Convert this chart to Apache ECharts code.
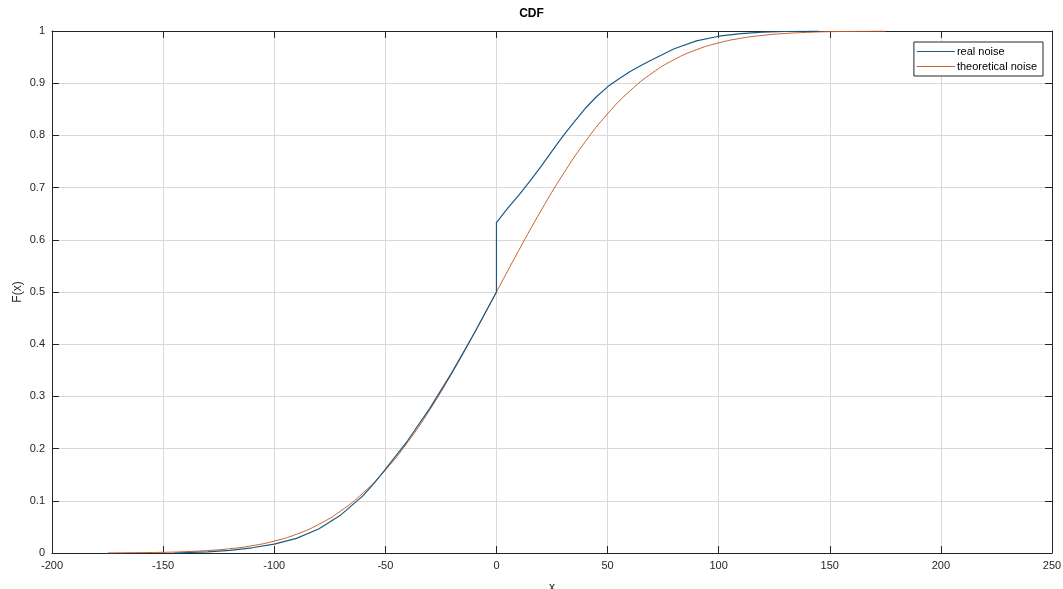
<!DOCTYPE html>
<html>
<head>
    <meta charset="utf-8">
    <title>CDF</title>
    <script src="https://cdn.jsdelivr.net/npm/echarts@6.0.0/dist/echarts.min.js"></script>
    <style>
        html, body { margin: 0; padding: 0; background: #fff; }
        #chart { width: 1063px; height: 589px; }
    </style>
</head>
<body>
<div id="chart"></div>
<script>
    var realX = [-145, -130, -120, -110, -100, -90, -80, -70, -60, -55, -50, -40, -30, -20, -10, 0,
        0, 5, 10, 15, 20, 25, 30, 35, 40, 45, 50, 55, 60, 65, 70, 80, 90, 100, 110, 120, 130, 145];
    var realY = [0, 0.002, 0.005, 0.010, 0.017, 0.028, 0.046, 0.073, 0.110, 0.134, 0.160, 0.215, 0.277, 0.346, 0.421, 0.5,
        0.633, 0.660, 0.685, 0.712, 0.740, 0.770, 0.799, 0.826, 0.852, 0.874, 0.893, 0.908, 0.922, 0.934, 0.945,
        0.966, 0.981, 0.990, 0.995, 0.998, 0.999, 1];

    // theoretical noise
    var theoX = [-175, -150, -140, -130, -120, -110, -100, -90, -80, -70, -60, -50, -40, -30, -20, -10, 0,
        10, 20, 30, 40, 50, 60, 70, 80, 90, 100, 110, 120, 130, 140, 150, 175];
    var theoY = [0.0002, 0.0013, 0.0026, 0.0047, 0.0082, 0.0139, 0.0228, 0.0359, 0.0548, 0.0808, 0.1151, 0.1587,
        0.2119, 0.2743, 0.3446, 0.4207, 0.5, 0.5793, 0.6554, 0.7257, 0.7881, 0.8413, 0.8849, 0.9192, 0.9452,
        0.9641, 0.9772, 0.9861, 0.9918, 0.9953, 0.9974, 0.9987, 0.9998];

    var seriesNames = ['real noise', 'theoretical noise'];

    function pairs(xs, ys) {
        return xs.map(function (x, i) { return [x, ys[i]]; });
    }

    var chart = echarts.init(document.getElementById('chart'));
    var axisColor = '#262626';
    var font = 'Liberation Sans, Arial, sans-serif';

    var option = {
        animation: false,
        title: {
            text: 'CDF',
            left: 'center',
            top: 3,
            textStyle: { fontSize: 12, fontWeight: 'bold', color: '#000', fontFamily: font }
        },
        grid: { left: 52, right: 11, top: 31, bottom: 36, outerBoundsMode: 'none' },
        legend: {
            orient: 'vertical',
            right: 20,
            top: 42,
            icon: 'rect',
            itemWidth: 38,
            itemHeight: 1,
            itemGap: 4,
            padding: [4, 6, 4, 3],
            borderColor: axisColor,
            borderWidth: 1,
            backgroundColor: '#fff',
            textStyle: { fontSize: 11, color: '#000', fontFamily: font, padding: [0, 0, 0, -3] },
            data: seriesNames
        },
        xAxis: [{
            type: 'value',
            min: -200, max: 250, interval: 50,
            name: 'x',
            nameLocation: 'middle',
            nameGap: 29,
            nameMoveOverlap: false,
            nameTextStyle: { fontSize: 12, color: axisColor, fontFamily: font },
            axisLine: { onZero: false, lineStyle: { color: axisColor } },
            axisTick: { inside: true, length: 7, lineStyle: { color: axisColor } },
            axisLabel: { fontSize: 11, color: axisColor, margin: 7, fontFamily: font },
            splitLine: { show: true, lineStyle: { color: '#d9d9d9' } }
        }, {
            type: 'value',
            position: 'top',
            min: -200, max: 250, interval: 50,
            axisLine: { onZero: false, lineStyle: { color: axisColor } },
            axisTick: { inside: true, length: 7, lineStyle: { color: axisColor } },
            axisLabel: { show: false },
            splitLine: { show: false }
        }],
        yAxis: [{
            type: 'value',
            min: 0, max: 1, interval: 0.1,
            name: 'F(x)',
            nameLocation: 'middle',
            nameGap: 28,
            nameMoveOverlap: false,
            nameTextStyle: { fontSize: 12, color: axisColor, fontFamily: font },
            axisLine: { show: true, onZero: false, lineStyle: { color: axisColor } },
            axisTick: { show: true, inside: true, length: 7, lineStyle: { color: axisColor } },
            axisLabel: { fontSize: 11, color: axisColor, margin: 7, fontFamily: font },
            splitLine: { show: true, lineStyle: { color: '#d9d9d9' } }
        }, {
            type: 'value',
            position: 'right',
            min: 0, max: 1, interval: 0.1,
            axisLine: { show: true, onZero: false, lineStyle: { color: axisColor } },
            axisTick: { show: true, inside: true, length: 7, lineStyle: { color: axisColor } },
            axisLabel: { show: false },
            splitLine: { show: false }
        }],
        series: [{
            name: seriesNames[0],
            type: 'line',
            symbol: 'none',
            data: pairs(realX, realY),
            lineStyle: { color: '#1b5a85', width: 1.2 },
            itemStyle: { color: '#1b5a85' },
            z: 3
        }, {
            name: seriesNames[1],
            type: 'line',
            symbol: 'none',
            smooth: true,
            data: pairs(theoX, theoY),
            lineStyle: { color: '#c8622a', width: 1 },
            itemStyle: { color: '#c8622a' },
            z: 2
        }]
    };

    chart.setOption(option);
</script>
</body>
</html>
